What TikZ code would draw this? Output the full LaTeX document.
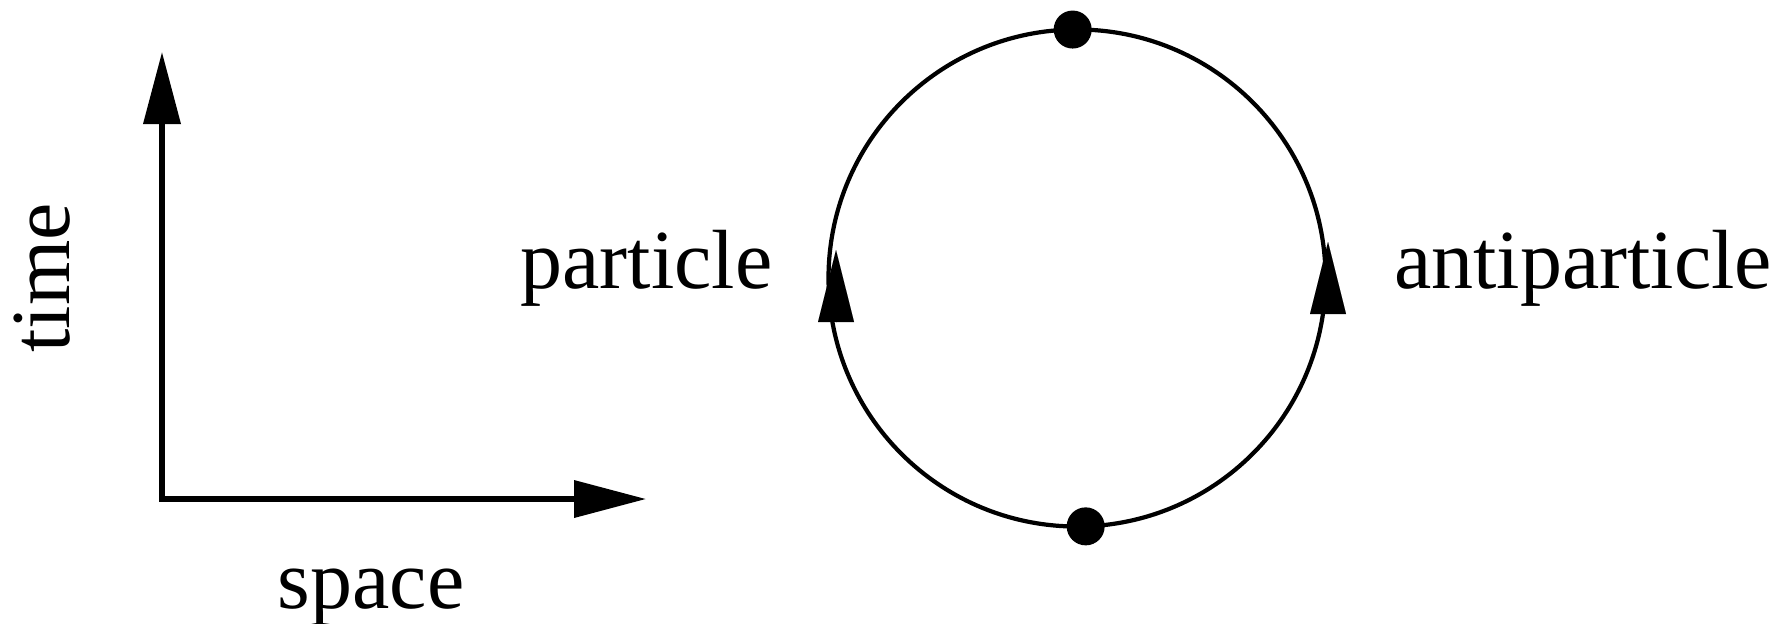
\documentclass[tikz,border=0pt]{standalone}
\usepackage{fontspec}
\setmainfont{Liberation Serif}
\usepackage{tikz}
\usetikzlibrary{arrows.meta,positioning,calc}
\tikzset{
    every picture/.style={line join=miter},
    axisarrow/.style={{Triangle[length=7.2mm,width=3.65mm]}-{Triangle[length=7.2mm,width=3.65mm]},
      draw=black,line width=1.5pt},
    loopline/.style={draw=black,line width=1.2pt,circle,minimum size=4.97cm,
      inner sep=0pt,outer sep=0pt},
    vertexdot/.style={circle,fill=black,minimum size=3.8mm,inner sep=0pt},
    headtip/.style={-{Triangle[length=7.2mm,width=3.6mm]},line width=0.01pt},
    lbl/.style={inner sep=0pt,font=\fontsize{23.9}{28}\selectfont}
}
\begin{document}
\begin{tikzpicture}[x=1cm,y=1cm]
    \useasboundingbox (0,0) rectangle (17.91,-6.23);
    % axes
    \coordinate (origin) at (1.62,-4.99);
    \coordinate (timetip) at (1.62,-0.52);
    \coordinate (spacetip) at (6.46,-4.99);
    \draw[axisarrow] (timetip) -- (origin) -- (spacetip);
    \node[lbl,rotate=90,anchor=base] (time) at (0.69,-2.78) {time};
    \node[lbl,anchor=base] (space) at (3.71,-6.08) {space};
    % loop
    \node[loopline] (loop) at (10.77,-2.78) {};
    \node[vertexdot] (top) at (loop.91.6) {};
    \node[vertexdot] (bottom) at (loop.272.1) {};
    \coordinate (pbase) at (8.36,-3.22);
    \coordinate (ptip) at (8.36,-2.50);
    \coordinate (abase) at (13.28,-3.13);
    \coordinate (atip) at (13.28,-2.42);
    \draw[headtip] (pbase) -- (ptip);
    \draw[headtip] (abase) -- (atip);
    \node[lbl,anchor=base east] (particle) at (7.73,-2.88) {particle};
    \node[lbl,anchor=base west] (anti) at (13.935,-2.88) {antiparticle};
\end{tikzpicture}
\end{document}
